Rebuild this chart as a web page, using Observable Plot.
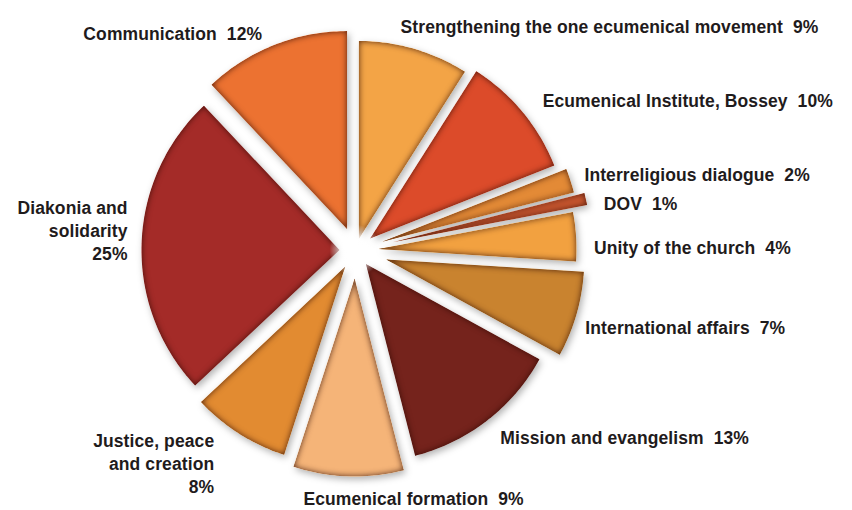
<!DOCTYPE html>
<html><head><meta charset="utf-8">
<script src="https://cdn.jsdelivr.net/npm/d3@7"></script>
<script src="https://cdn.jsdelivr.net/npm/@observablehq/plot@0.6"></script>
<style>body{margin:0;background:#fff} #chart svg{display:block} #chart svg text{white-space:pre}</style>
</head><body><div id="chart"></div>
<script>
// ---- data ----
const categories = ["Strengthening the one ecumenical movement", "Ecumenical Institute, Bossey", "Interreligious dialogue", "DOV", "Unity of the church", "International affairs", "Mission and evangelism", "Ecumenical formation", "Justice, peace and creation", "Diakonia and solidarity", "Communication"];
const shares = [9, 10, 2, 1, 4, 7, 13, 9, 8, 25, 12];
const labels = ["Strengthening the one ecumenical movement  9%", "Ecumenical Institute, Bossey  10%", "Interreligious dialogue  2%", "DOV  1%", "Unity of the church  4%", "International affairs  7%", "Mission and evangelism  13%", "Ecumenical formation  9%", "Justice, peace\nand creation\n8%", "Diakonia and\nsolidarity\n25%", "Communication  12%"];

// ---- style / layout ----
const colors = ["#F3A446", "#DC4B2A", "#E38A36", "#C9572F", "#F2A140", "#C9832F", "#75231C", "#F5B478", "#E28B31", "#A42B28", "#EC7231"];
const explode = [12, 19, 28, 38, 23, 32, 17, 28, 19, 16, 23];
const labelPlace = [
  {anchor: "start", dx: -13.5, dy: -23},
  {anchor: "start", dx: 20, dy: -12},
  {anchor: "start", dx: 14, dy: -7},
  {anchor: "start", dx: 18, dy: 3.5},
  {anchor: "start", dx: 18, dy: 10},
  {anchor: "start", dx: 9, dy: 12},
  {anchor: "start", dx: 13, dy: 16},
  {anchor: "start", dx: -45, dy: 21},
  {anchor: "end", dx: -25, dy: 29},
  {anchor: "end", dx: -14, dy: -14},
  {anchor: "end", dx: -12, dy: -12.5}
];
const W = 852, H = 510, CX = 355, CY = 250, R = 198;

// ---- geometry from data ----
const arcs = d3.pie().sort(null).startAngle(0).endAngle(2 * Math.PI)(shares);
const slicePts = [];
const labelRows = [];
arcs.forEach((a, i) => {
  const mid = (a.startAngle + a.endAngle) / 2;
  const ax = CX + explode[i] * Math.sin(mid), ay = CY - explode[i] * Math.cos(mid);
  slicePts.push({key: categories[i], x: ax, y: ay, fill: colors[i]});
  const n = Math.max(4, Math.ceil((a.endAngle - a.startAngle) / (Math.PI / 180)));
  for (let k = 0; k <= n; k++) {
    const t = a.startAngle + (a.endAngle - a.startAngle) * k / n;
    slicePts.push({key: categories[i], x: ax + R * Math.sin(t), y: ay - R * Math.cos(t), fill: colors[i]});
  }
  slicePts.push({key: categories[i], x: ax, y: ay, fill: colors[i]});
  const ox = ax + R * Math.sin(mid), oy = ay - R * Math.cos(mid);
  const p = labelPlace[i];
  labelRows.push({text: labels[i], x: ox + p.dx, y: oy + p.dy, anchor: p.anchor});
});

const svg = Plot.plot({
  width: W, height: H,
  margin: 0,
  x: {domain: [0, W], range: [0, W], axis: null},
  y: {domain: [0, H], range: [0, H], axis: null},
  color: {type: "identity"},
  style: {fontFamily: "'Liberation Sans', Arial, Helvetica, sans-serif", background: "#fff", letterSpacing: "0.1px"},
  marks: [
    Plot.line(slicePts, {x: "x", y: "y", z: "key", fill: "fill", stroke: "none", curve: "linear"}),
    Plot.dot([{x: CX, y: CY}], {x: "x", y: "y", r: 26, fill: "url(#glow)", stroke: "none"}),
    ...["start", "end"].map(anc => Plot.text(labelRows.filter(d => d.anchor === anc), {
      x: "x", y: "y", text: "text", textAnchor: anc, lineAnchor: "middle", lineHeight: 1.3,
      fontSize: 17.5, fontWeight: "bold", fill: "#1f1b1c"
    }))
  ]
});

d3.select(svg).insert("defs", ":first-child").html(`
  <filter id="bevel" x="-10%" y="-10%" width="120%" height="120%" color-interpolation-filters="sRGB">
    <feGaussianBlur in="SourceAlpha" stdDeviation="3" result="blur"/>
    <feComposite in="SourceAlpha" in2="blur" operator="arithmetic" k1="0" k2="1.6" k3="-1.6" k4="0" result="rim"/>
    <feFlood flood-color="#2a0500" flood-opacity="0.5" result="dark"/>
    <feComposite in="dark" in2="rim" operator="in" result="rimShade"/>
    <feGaussianBlur in="SourceAlpha" stdDeviation="3.5" result="sblur"/>
    <feOffset in="sblur" dx="2" dy="3" result="off"/>
    <feFlood flood-color="#000" flood-opacity="0.3"/>
    <feComposite in2="off" operator="in" result="shadow"/>
    <feMerge><feMergeNode in="shadow"/><feMergeNode in="SourceGraphic"/><feMergeNode in="rimShade"/></feMerge>
  </filter>
  <radialGradient id="glow">
    <stop offset="0%" stop-color="#fff" stop-opacity="1"/>
    <stop offset="45%" stop-color="#fff" stop-opacity="0.95"/>
    <stop offset="100%" stop-color="#fff" stop-opacity="0"/>
  </radialGradient>
`);
d3.select(svg).select('g[aria-label="line"]').attr("filter", "url(#bevel)");
document.getElementById("chart").appendChild(svg);
</script>
</body></html>
